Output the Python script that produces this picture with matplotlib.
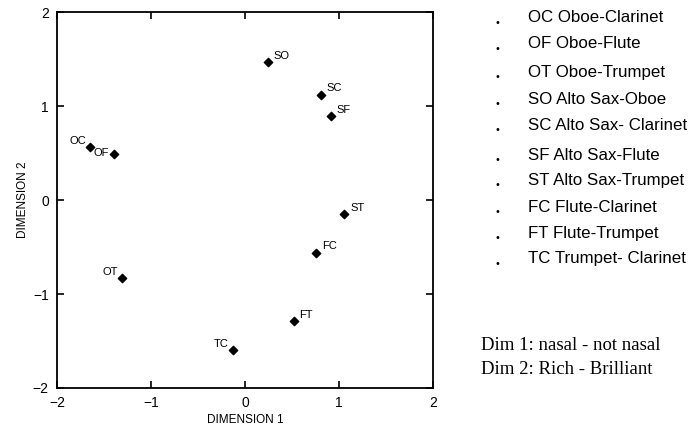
import matplotlib
matplotlib.use("Agg")
import matplotlib.pyplot as plt

# pair codes and MDS coordinates
codes = ["OC", "OF", "OT", "SO", "SC", "SF", "ST", "FC", "FT", "TC"]
dim1 = [-1.65, -1.40, -1.31, 0.25, 0.81, 0.92, 1.06, 0.76, 0.52, -0.13]
dim2 = [0.56, 0.49, -0.83, 1.47, 1.12, 0.89, -0.15, -0.56, -1.29, -1.60]
label_side = ["left", "left", "left", "right", "right", "right", "right", "right", "right", "left"]

legend_names = ["OC Oboe-Clarinet", "OF Oboe-Flute", "OT Oboe-Trumpet",
                "SO Alto Sax-Oboe", "SC Alto Sax- Clarinet", "SF Alto Sax-Flute",
                "ST Alto Sax-Trumpet", "FC Flute-Clarinet", "FT Flute-Trumpet",
                "TC Trumpet- Clarinet"]
legend_y = [18, 44, 72, 99, 125, 155, 180, 207, 233, 259]  # pixel rows
notes = ["Dim 1: nasal - not nasal", "Dim 2: Rich - Brilliant"]

fig = plt.figure(figsize=(6.89, 4.29), dpi=100)
ax = fig.add_axes([0.083, 0.0956, 0.545, 0.876])

ax.scatter(dim1, dim2, marker="D", s=18, color="black", zorder=3)
for c, x, y, side in zip(codes, dim1, dim2, label_side):
    if c == "OF":
        ax.annotate(c, (x, y), xytext=(-3, -3), textcoords="offset points",
                    ha="right", va="bottom", fontsize=8, family="Liberation Sans")
    elif side == "right":
        ax.annotate(c, (x, y), xytext=(4, 1), textcoords="offset points",
                    ha="left", va="bottom", fontsize=8, family="Liberation Sans")
    else:
        ax.annotate(c, (x, y), xytext=(-3, 1), textcoords="offset points",
                    ha="right", va="bottom", fontsize=8, family="Liberation Sans")

ax.set_xlim(-2, 2)
ax.set_ylim(-2, 2)
ax.set_xticks([-2, -1, 0, 1, 2])
ax.set_yticks([-2, -1, 0, 1, 2])
ax.tick_params(direction="in", length=5, width=1.2, top=True, right=True,
               labelsize=10, pad=6)
for lab in ax.get_xticklabels() + ax.get_yticklabels():
    lab.set_family("Liberation Sans")
for sp in ax.spines.values():
    sp.set_linewidth(1.3)
ax.set_xlabel("DIMENSION 1", fontsize=8.5, family="Liberation Sans", labelpad=3)
ax.set_ylabel("DIMENSION 2", fontsize=8.5, family="Liberation Sans", labelpad=3)

H = 429.0
for name, py in zip(legend_names, legend_y):
    fig.text(497 / 689, 1 - (py + 5) / H, "\u2022", fontsize=7, ha="center", va="center")
    fig.text(528 / 689, 1 - py / H, name, fontsize=12.2, ha="left", va="center",
             family="Liberation Sans")

fig.text(481 / 689, 1 - 346 / H, notes[0], fontsize=13.5, ha="left", va="center",
         family="Liberation Serif")
fig.text(481 / 689, 1 - 370 / H, notes[1], fontsize=13.5, ha="left", va="center",
         family="Liberation Serif")

fig.savefig("out.png", dpi=100)
